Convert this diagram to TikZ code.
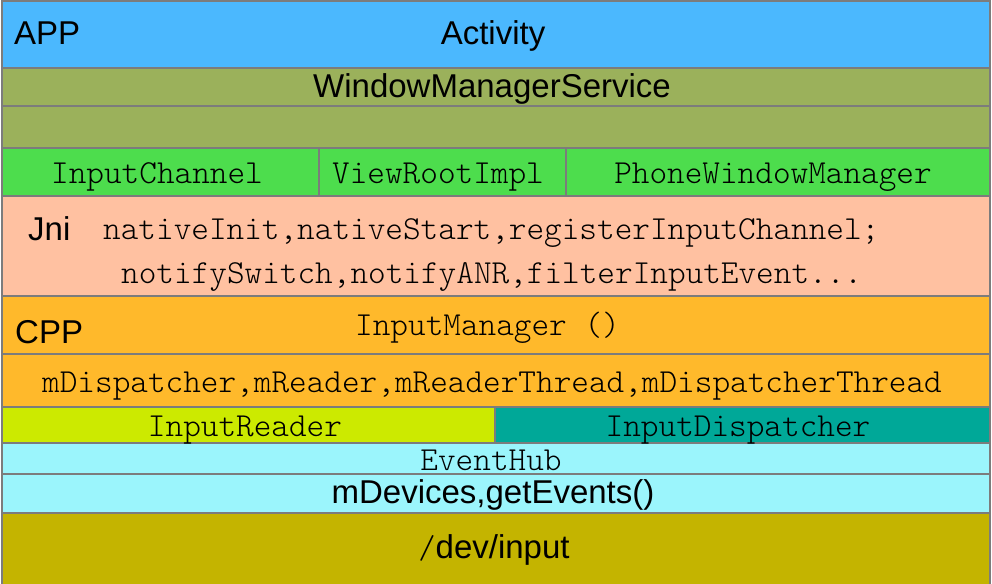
\documentclass[tikz,border=0pt]{standalone}
\usepackage{fontspec}
\newfontfamily\arialf{Liberation Sans}
\newfontfamily\monof{Latin Modern Mono Light}
\definecolor{cApp}{HTML}{4BB8FE}
\definecolor{cWms}{HTML}{9BB15B}
\definecolor{cGreen}{HTML}{4DDD4D}
\definecolor{cJni}{HTML}{FFC1A1}
\definecolor{cOrange}{HTML}{FFB92B}
\definecolor{cYG}{HTML}{CCEA00}
\definecolor{cTeal}{HTML}{00A898}
\definecolor{cCyan}{HTML}{9BF5FC}
\definecolor{cDev}{HTML}{C4B400}
\definecolor{lineGray}{HTML}{7C7C7C}
\begin{document}
\begin{tikzpicture}[x=1pt,y=-1pt,
  band/.style={draw=lineGray, line width=1.5pt},
  ar/.style={font=\arialf\fontsize{33}{36}\selectfont, inner sep=0pt, text=black},
  mo/.style={font=\monof\fontsize{33.6}{36}\selectfont, inner sep=0pt, text=black}]
\useasboundingbox (0,0) rectangle (992,583);
% bands
\path[band, fill=cApp] (2,1) rectangle (990,68);
\path[band, fill=cWms] (2,68) rectangle (990,106);
\path[band, fill=cWms] (2,106) rectangle (990,148);
\path[band, fill=cGreen] (2,148) rectangle (319,196);
\path[band, fill=cGreen] (319,148) rectangle (566,196);
\path[band, fill=cGreen] (566,148) rectangle (990,196);
\path[band, fill=cJni] (2,196) rectangle (990,296);
\path[band, fill=cOrange] (2,296) rectangle (990,354);
\path[band, fill=cOrange] (2,354) rectangle (990,407);
\path[band, fill=cYG] (2,407) rectangle (495,443);
\path[band, fill=cTeal] (495,407) rectangle (990,443);
\path[band, fill=cCyan] (2,443) rectangle (990,474);
\path[band, fill=cCyan] (2,474) rectangle (990,513);
\path[band, fill=cDev] (2,513) rectangle (990,592);
% texts
\node[ar, anchor=base west] (app) at (14,45) {APP};
\node[ar, anchor=base] (activity) at (493,45) {Activity};
\node[ar, anchor=base west] (wms) at (313,98) {WindowManagerService};
\node[mo, anchor=base] (ic) at (157,183) {InputChannel};
\node[mo, anchor=base] (vri) at (438,183) {ViewRootImpl};
\node[mo, anchor=base] (pwm) at (773,183) {PhoneWindowManager};
\node[ar, anchor=base west] (jni) at (28,240) {Jni};
\node[mo, anchor=base west] (jni1) at (103,239) {nativeInit,nativeStart,registerInputChannel;};
\node[mo, anchor=base west] (jni2) at (121,283) {notifySwitch,notifyANR,filterInputEvent...};
\node[ar, anchor=base west] (cpp) at (15,343) {CPP};
\node[mo, anchor=base west] (im) at (355,335) {InputManager ()};
\node[mo, anchor=base west] (mdisp) at (42,392) {mDispatcher,mReader,mReaderThread,mDispatcherThread};
\node[mo, anchor=base] (ir) at (245,436) {InputReader};
\node[mo, anchor=base] (id) at (738,436) {InputDispatcher};
\node[mo, anchor=base] (eh) at (491,470) {EventHub};
\node[ar, anchor=base] (mdev) at (493,503) {mDevices,getEvents()};
\node[ar, anchor=base] (dev) at (494,558) {{\monof /}dev/input};
\end{tikzpicture}
\end{document}
